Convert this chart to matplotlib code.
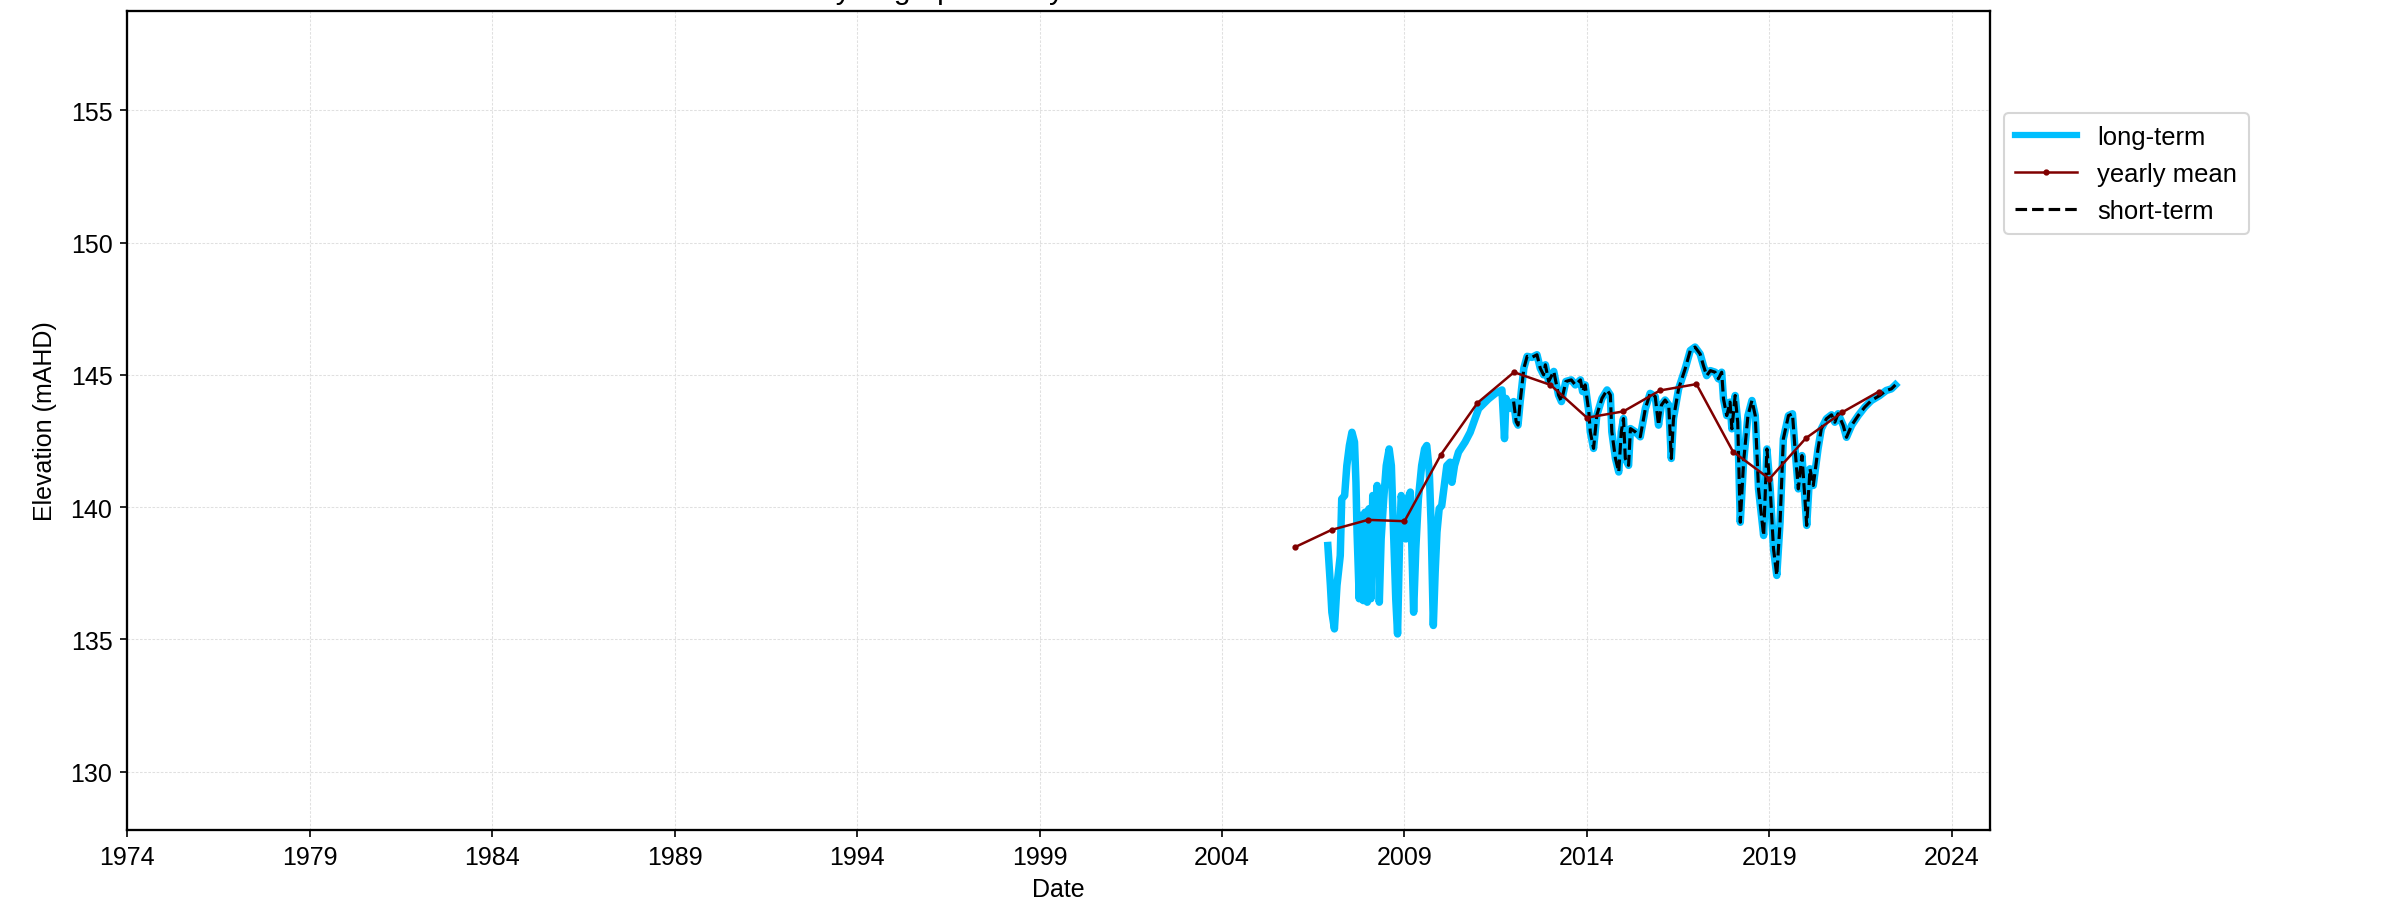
import matplotlib
matplotlib.use("Agg")
from matplotlib import pyplot as plt
from matplotlib.lines import Line2D
import numpy as np

plt.rcParams['font.family'] = ['Liberation Sans', 'DejaVu Sans']
plt.rcParams['font.size'] = 12

# long-term record (decimal year, mAHD)
lt_years = [
    2006.90, 2006.97, 2007.01, 2007.08, 2007.15, 2007.24, 2007.28, 2007.36, 2007.42, 2007.49,
    2007.56, 2007.63, 2007.67, 2007.70, 2007.76, 2007.81, 2007.87, 2007.92, 2007.98, 2008.03,
    2008.08, 2008.13, 2008.18, 2008.25, 2008.31, 2008.36, 2008.43, 2008.50, 2008.58, 2008.64,
    2008.70, 2008.76, 2008.81, 2008.86, 2008.91, 2008.97, 2009.04, 2009.09, 2009.16, 2009.25,
    2009.31, 2009.38, 2009.47, 2009.55, 2009.61, 2009.68, 2009.73, 2009.79, 2009.84, 2009.89,
    2009.95, 2010.02, 2010.09, 2010.16, 2010.25, 2010.30, 2010.37, 2010.48, 2010.66, 2010.80,
    2010.93, 2011.03, 2011.30, 2011.49, 2011.67, 2011.71, 2011.74, 2011.78, 2011.90, 2011.99,
    2012.06, 2012.11, 2012.17, 2012.27, 2012.36, 2012.49, 2012.63, 2012.72, 2012.81, 2012.86,
    2012.95, 2013.09, 2013.22, 2013.30, 2013.42, 2013.57, 2013.68, 2013.82, 2013.88, 2013.95,
    2014.05, 2014.09, 2014.18, 2014.27, 2014.41, 2014.55, 2014.64, 2014.68, 2014.78, 2014.87,
    2014.94, 2015.00, 2015.05, 2015.14, 2015.19, 2015.32, 2015.46, 2015.60, 2015.73, 2015.87,
    2015.96, 2016.04, 2016.14, 2016.24, 2016.31, 2016.37, 2016.48, 2016.51, 2016.69, 2016.83,
    2016.96, 2017.10, 2017.19, 2017.28, 2017.38, 2017.51, 2017.60, 2017.69, 2017.74, 2017.83,
    2017.92, 2017.97, 2018.06, 2018.13, 2018.20, 2018.29, 2018.41, 2018.52, 2018.61, 2018.70,
    2018.84, 2018.93, 2019.02, 2019.11, 2019.20, 2019.29, 2019.38, 2019.52, 2019.63, 2019.70,
    2019.79, 2019.89, 2020.02, 2020.11, 2020.20, 2020.33, 2020.42, 2020.56, 2020.70, 2020.79,
    2020.88, 2021.02, 2021.11, 2021.25, 2021.43, 2021.61, 2021.79, 2022.02, 2022.20, 2022.34,
    2022.45,
]
lt_levels = [
    138.55, 137.04, 136.03, 135.40, 137.04, 138.17, 140.31, 140.44, 141.57, 142.33,
    142.83, 142.46, 140.94, 139.06, 136.54, 139.69, 136.47, 139.81, 136.41, 139.94,
    136.54, 140.44, 138.43, 140.82, 136.41, 138.80, 140.31, 141.57, 142.20, 141.57,
    139.06, 136.54, 135.21, 138.43, 140.44, 139.94, 138.80, 140.31, 140.57, 136.03,
    138.43, 140.31, 141.57, 142.20, 142.33, 141.32, 139.31, 135.53, 137.54, 139.06,
    139.94, 140.06, 140.82, 141.57, 141.70, 140.94, 141.57, 142.08, 142.46, 142.83,
    143.34, 143.72, 144.09, 144.30, 144.43, 143.35, 142.59, 144.11, 143.73, 143.99,
    143.23, 143.10, 143.99, 145.25, 145.70, 145.66, 145.76, 145.25, 145.00, 145.38,
    144.75, 145.13, 144.24, 143.99, 144.75, 144.81, 144.62, 144.81, 144.37, 144.62,
    143.61, 142.85, 142.22, 143.48, 144.11, 144.43, 144.24, 142.85, 141.84, 141.33,
    142.85, 143.35, 141.84, 141.58, 142.97, 142.85, 142.66, 143.73, 144.30, 144.18,
    143.10, 143.86, 144.05, 143.86, 141.84, 143.35, 144.24, 144.47, 145.23, 145.92,
    146.05, 145.79, 145.35, 144.97, 145.16, 145.10, 144.85, 145.10, 144.09, 143.46,
    143.97, 142.96, 144.22, 143.21, 139.43, 141.70, 143.46, 144.03, 143.46, 140.69,
    138.93, 142.20, 140.69, 138.43, 137.42, 139.43, 142.58, 143.46, 143.53, 142.20,
    140.69, 141.95, 139.31, 141.45, 140.82, 142.20, 142.96, 143.34, 143.49, 143.21,
    143.53, 143.09, 142.64, 143.09, 143.46, 143.78, 144.03, 144.22, 144.41, 144.47,
    144.62,
]
# the short-term logger record begins here and follows the same levels
st_start = 2011.99

# yearly mean, plotted at the start of each year
ym_years = [2006, 2007, 2008, 2009, 2010, 2011, 2012, 2013, 2014,
            2015, 2016, 2017, 2018, 2019, 2020, 2021, 2022]
ym_levels = [138.49, 139.14, 139.52, 139.47, 141.99, 143.94, 145.10, 144.62, 143.38,
             143.62, 144.41, 144.65, 142.10, 141.07, 142.61, 143.59, 144.37]

xtick_years = [1974, 1979, 1984, 1989, 1994, 1999, 2004, 2009, 2014, 2019, 2024]

lt_years = np.array(lt_years)
lt_levels = np.array(lt_levels)
st_mask = lt_years >= st_start

fig = plt.figure(figsize=(2384 / 150, 909 / 150), dpi=150)
ax = fig.add_axes([0.0533, 0.0858, 0.7814, 0.901])

ax.plot(lt_years, lt_levels, color='#00bfff', lw=3.6, zorder=2)
ax.plot(lt_years[st_mask], lt_levels[st_mask], color='black', lw=1.5,
        ls='--', zorder=3)
ax.plot(ym_years, ym_levels, color='#800000', lw=1.2, marker='.', ms=4, zorder=4)

ax.set_xlim(1974.0, 2025.04)
ax.set_ylim(127.8, 158.75)
ax.set_xticks(xtick_years)
ax.set_yticks([130, 135, 140, 145, 150, 155])
ax.grid(True, color='#e0e0e0', lw=0.5, ls=(0, (2.5, 1.5)))
ax.set_axisbelow(True)
for s in ax.spines.values():
    s.set_linewidth(1.1)

ax.set_xlabel('Date')
ax.set_ylabel('Elevation (mAHD)', labelpad=6.5)
ax.set_title('Hydrograph - Daily Water Level Data', fontsize=14.4)

handles = [
    Line2D([], [], color='#00bfff', lw=3.0),
    Line2D([], [], color='#800000', lw=1.2, marker='.', ms=4),
    Line2D([], [], color='black', lw=1.5, ls='--'),
]
ax.legend(handles, ['long-term', 'yearly mean', 'short-term'],
          loc='upper left', bbox_to_anchor=(1.0075, 0.875), borderaxespad=0,
          fontsize=12.3, handlelength=2.4, borderpad=0.45)

plt.savefig('out.png', dpi=150)
